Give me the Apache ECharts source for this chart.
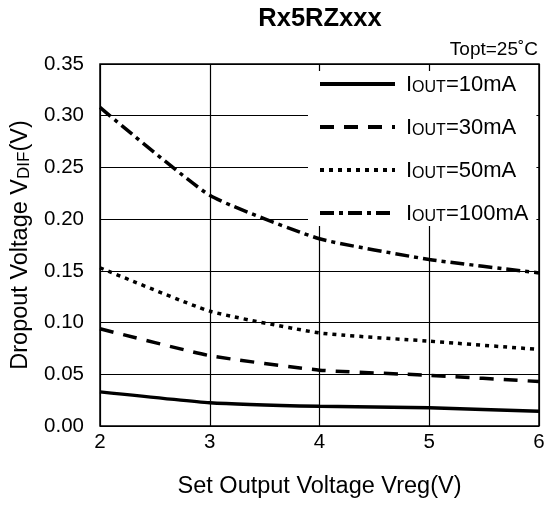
<!DOCTYPE html>
<html>
<head>
<meta charset="utf-8">
<script src="https://cdn.jsdelivr.net/npm/echarts@6/dist/echarts.min.js"></script>
<style>html,body{margin:0;padding:0;background:#fff;}#c{width:544px;height:505px;}</style>
</head>
<body>
<div id="c"></div>
<script>
var xValues = [2, 3, 4, 5, 6];
var i10 = [0.033, 0.0225, 0.019, 0.0176, 0.0143];
var i30 = [0.094, 0.068, 0.054, 0.049, 0.043];
var i50 = [0.153, 0.111, 0.090, 0.082, 0.074];
var i100 = [0.308, 0.223, 0.181, 0.161, 0.148];
var seriesNames = ['IOUT=10mA', 'IOUT=30mA', 'IOUT=50mA', 'IOUT=100mA'];
var yTicks = [0, 0.05, 0.10, 0.15, 0.20, 0.25, 0.30, 0.35];

function pairs(vals) { return xValues.map(function (x, i) { return [x, vals[i]]; }); }
var FONT = 'Liberation Sans, Arial, sans-serif';
var dashTypes = ['solid', [14, 10], [4, 5], [14, 5, 4, 5]];
var allData = [i10, i30, i50, i100];

var chart = echarts.init(document.getElementById('c'));
chart.setOption({
  animation: false,
  backgroundColor: '#fff',
  grid: { left: 100, right: 5, top: 64, bottom: 79, outerBoundsMode: 'none', containLabel: false,
    show: true, borderColor: '#000', borderWidth: 1.5, backgroundColor: 'transparent' },
  graphic: [
    { type: 'text', x: 320, y: 19, style: { text: 'Rx5RZxxx', align: 'center', verticalAlign: 'middle', fill: '#000', font: 'bold 25.5px ' + FONT } },
    { type: 'text', x: 538, y: 50, style: { text: 'Topt=25˚C', align: 'right', verticalAlign: 'middle', fill: '#000', font: '19px ' + FONT } }
  ],
  legend: {
    orient: 'vertical', left: 308, top: 71, padding: [1, 8, 1, 10],
    backgroundColor: '#fff', itemWidth: 75, itemHeight: 14, itemGap: 19,
    itemStyle: { opacity: 0 },
    lineStyle: { width: 4 },
    data: seriesNames,
    formatter: function (n) { return '{i|I}{s|OUT}{n|' + n.slice(4) + '}'; },
    textStyle: {
      color: '#000', fontFamily: FONT, fontSize: 22, lineHeight: 24, padding: [0, 0, 0, 6],
      rich: {
        i: { fontSize: 22, fontFamily: FONT, color: '#000', lineHeight: 24, verticalAlign: 'bottom' },
        s: { fontSize: 16, fontFamily: FONT, color: '#000', lineHeight: 24, verticalAlign: 'bottom' },
        n: { fontSize: 22, fontFamily: FONT, color: '#000', lineHeight: 24, verticalAlign: 'bottom' }
      }
    }
  },
  xAxis: {
    type: 'value', min: 2, max: 6, interval: 1,
    name: 'Set Output Voltage Vreg(V)', nameLocation: 'middle', nameGap: 49,
    nameTextStyle: { color: '#000', fontFamily: FONT, fontSize: 23.5 },
    axisLine: { show: false }, axisTick: { show: false },
    axisLabel: { color: '#000', fontFamily: FONT, fontSize: 20.5, margin: 6 },
    splitLine: { show: true, lineStyle: { color: '#000', width: 1.2 } }
  },
  yAxis: {
    type: 'value', min: 0, max: 0.35, interval: 0.05,
    name: 'Dropout Voltage V{s|DIF}(V)', nameLocation: 'middle', nameGap: 67,
    nameTextStyle: { color: '#000', fontFamily: FONT, fontSize: 23.5,
      rich: { s: { fontSize: 17, fontFamily: FONT, color: '#000', verticalAlign: 'bottom' } } },
    axisLine: { show: false }, axisTick: { show: false },
    axisLabel: { color: '#000', fontFamily: FONT, fontSize: 20.5, margin: 16,
      formatter: function (v) { return v.toFixed(2); } },
    splitLine: { show: true, lineStyle: { color: '#000', width: 1.2 } }
  },
  series: seriesNames.map(function (n, k) {
    return {
      name: n, type: 'line', data: pairs(allData[k]), showSymbol: false, symbol: 'none', symbolSize: 0,
      smooth: 0.15, z: 3,
      lineStyle: { color: '#000', width: 3.5, type: dashTypes[k] },
      itemStyle: { color: '#000' }
    };
  })
});
</script>
</body>
</html>
